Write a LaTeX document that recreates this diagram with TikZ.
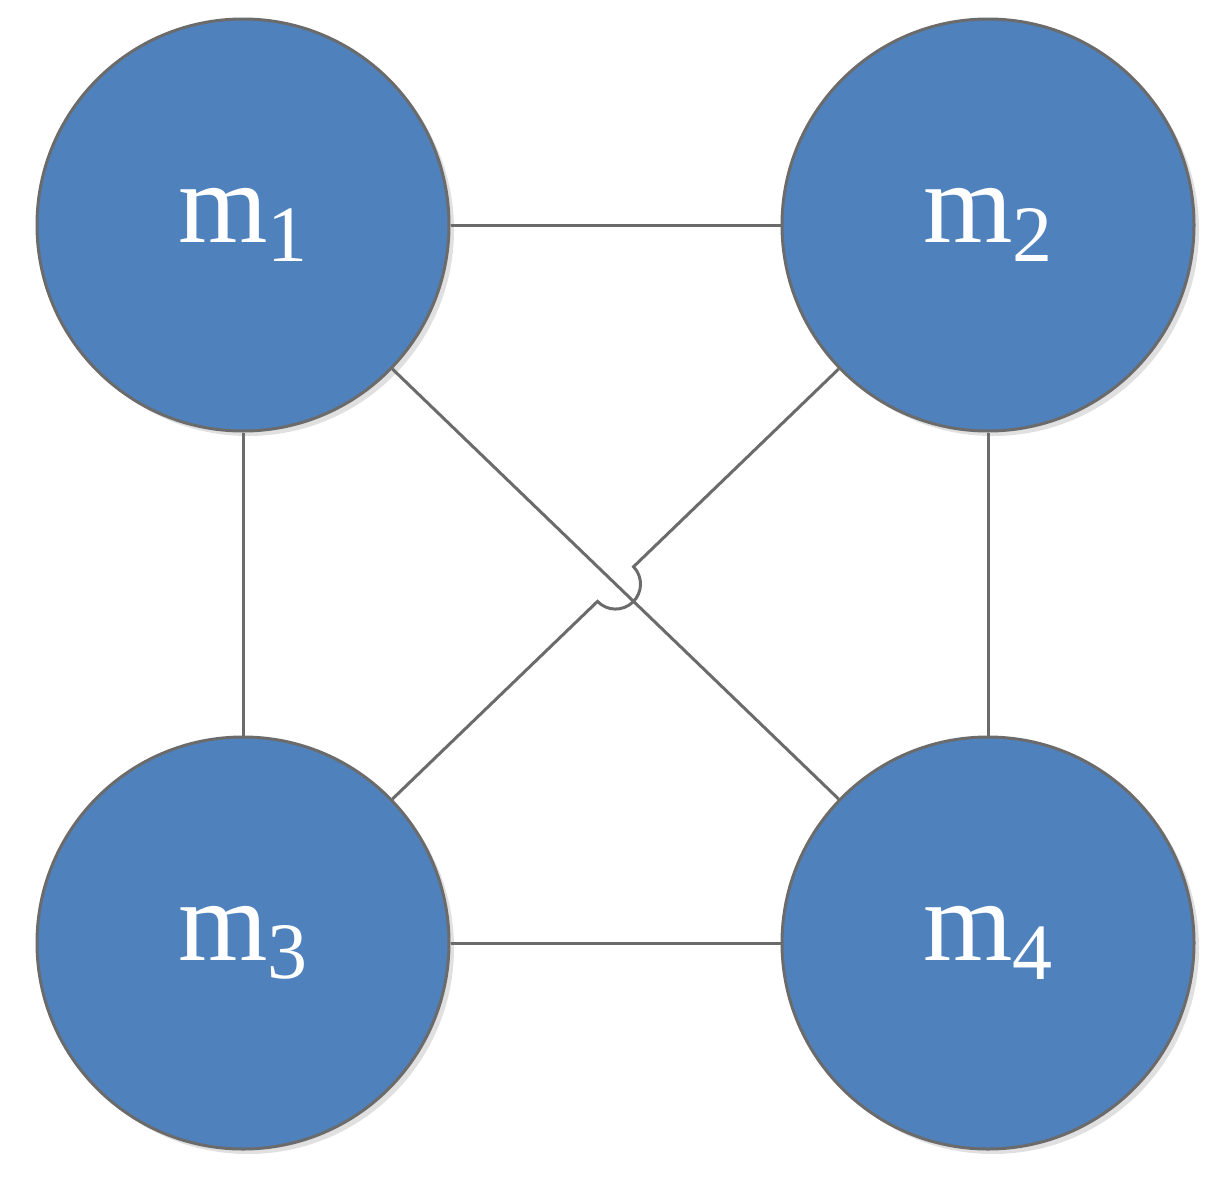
\documentclass[tikz,border=0pt]{standalone}
\usepackage{fontspec}
\setmainfont{Liberation Serif}
\definecolor{nodeblue}{HTML}{4F81BD}
\definecolor{edgegray}{HTML}{6B6B6B}
\begin{document}
\begin{tikzpicture}[x=1pt,y=-1pt,
  mnode/.style={circle,minimum size=412pt,inner sep=0pt,fill=nodeblue,draw=edgegray,line width=3pt,text=white,font=\fontsize{115}{115}\selectfont},
  shad/.style={circle,minimum size=412pt,inner sep=0pt,fill=black!12},
  link/.style={draw=edgegray,line width=3pt}]
\useasboundingbox (0,0) rectangle (1222,1183);
\foreach \x/\y in {243/225,988/225,243/943,988/943}
  \node[shad] at (\x+5,\y+5) {};
\node[mnode] (m1) at (243,225) {m\raisebox{-0.16em}{\fontsize{80}{80}\selectfont 1}};
\node[mnode] (m2) at (988,225) {m\raisebox{-0.16em}{\fontsize{80}{80}\selectfont 2}};
\node[mnode] (m3) at (243,943) {m\raisebox{-0.16em}{\fontsize{80}{80}\selectfont 3}};
\node[mnode] (m4) at (988,943) {m\raisebox{-0.16em}{\fontsize{80}{80}\selectfont 4}};
\draw[link] (m1) -- (m2);
\draw[link] (m3) -- (m4);
\draw[link] (m1) -- (m3);
\draw[link] (m2) -- (m4);
\draw[link] (m1) -- (m4);
\coordinate (h1) at (597.5,601.4);
\coordinate (h2) at (633.5,566.7);
\draw[link] (m3) -- (h1) arc[start angle=136.1, end angle=-43.9, radius=25] -- (m2);
\end{tikzpicture}
\end{document}
